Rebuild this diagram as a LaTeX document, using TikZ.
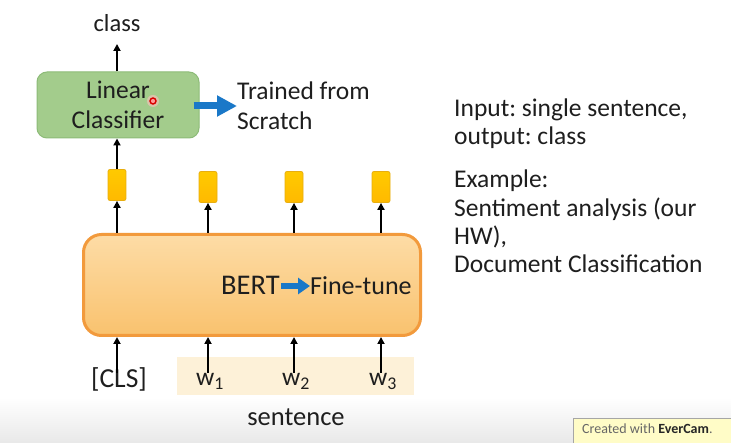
\documentclass[tikz,border=0pt]{standalone}
\usepackage{fontspec}
\setmainfont{Carlito}
\frenchspacing
\usetikzlibrary{arrows.meta}
\definecolor{clsgreen}{HTML}{A3CC8C}
\definecolor{clsgreenline}{HTML}{8DBB78}
\definecolor{bertlight}{HTML}{FDDCA6}
\definecolor{bertdark}{HTML}{F9C26E}
\definecolor{bertline}{HTML}{F29A3C}
\definecolor{vecfill}{HTML}{FFC000}
\definecolor{vecline}{HTML}{E8AE10}
\definecolor{bandfill}{HTML}{FDF1D8}
\definecolor{flowblue}{HTML}{1A78C8}
\definecolor{txt}{HTML}{1E1E1E}
\tikzset{
  lbl/.style={inner sep=0pt, text=txt, font=\fontsize{25.5}{28.5}\selectfont},
  line/.style={lbl, anchor=base west},
  arr/.style={-{Triangle[length=7pt,width=7pt]}, line width=1.8pt, black},
  bluearr/.style={-{Triangle[length=20pt,width=20pt]}, line width=7pt, flowblue},
  greenbox/.style={draw=clsgreenline, line width=1pt, fill=clsgreen, rounded corners=10pt,
    minimum width=162pt, minimum height=66pt, align=center, text=txt, inner sep=0pt,
    font=\fontsize{25.5}{30}\selectfont},
  bertbox/.style={draw=bertline, line width=3pt, top color=bertlight, bottom color=bertdark,
    rounded corners=18pt, minimum width=337pt, minimum height=101pt},
  vecbox/.style={draw=vecline, line width=0.8pt, top color=vecfill!85!yellow, bottom color=vecfill!90!orange,
    rounded corners=2pt, minimum width=18pt, minimum height=31pt, inner sep=0pt},
}
\begin{document}
\begin{tikzpicture}[x=1pt,y=-1pt]
  \useasboundingbox (0,0) rectangle (731,443);
  \fill[white] (0,0) rectangle (731,443);
  % grey strip along the lower edge
  \shade[top color=white, bottom color=black!9] (0,398) rectangle (731,443);

  % output side
  \node[lbl, anchor=base, font=\fontsize{24.5}{28}\selectfont] (class) at (117,32) {class};
  \node[greenbox] (lin) at (118,105) {Linear\\Classifier};
  \coordinate (classtip) at (117,44);
  \draw[arr] (lin.north -| classtip) -- (classtip);
  \fill[red!25, opacity=0.6] (153,101) circle (6pt);
  \draw[red!85!black, line width=1.4pt, fill=red!40] (153,101) circle (3pt);

  \node[line] (tr1) at (237,100) {Trained from};
  \node[line] (tr2) at (237,130) {Scratch};
  \draw[bluearr] (lin.east |- 0,106) ++(-6,0) coordinate (bs) -- (tr1.west |- bs);

  % contextual vectors
  \node[vecbox] (h0) at (117,185) {};
  \node[vecbox] (h1) at (208,187) {};
  \node[vecbox] (h2) at (294,187) {};
  \node[vecbox] (h3) at (381,187) {};
  \draw[arr] (h0.north) -- (lin.south -| h0);

  % encoder
  \node[bertbox] (bert) at (252,285) {};
  \foreach \h in {h0,h1,h2,h3}
    \draw[arr] (bert.north -| \h) -- (\h.south);
  \node[lbl, anchor=base west, font=\fontsize{28.5}{32}\selectfont] (bname) at (221,295) {BERT};
  \node[lbl, anchor=base west, font=\fontsize{26}{30}\selectfont] (ft) at (310,295) {Fine-tune};
  \draw[-{Triangle[length=12pt,width=16pt]}, line width=6pt, flowblue]
    (bname.east |- 0,286) ++(1,0) -- (ft.west |- 0,286);

  % inputs
  \fill[bandfill] (177,357) rectangle (414,395);
  \node[lbl, anchor=base, font=\fontsize{27.5}{30}\selectfont] (cls) at (119,388) {[CLS]};
  \node[lbl, anchor=base] (w1) at (210,386) {w\textsubscript{1}};
  \node[lbl, anchor=base] (w2) at (296,386) {w\textsubscript{2}};
  \node[lbl, anchor=base] (w3) at (383,386) {w\textsubscript{3}};
  \foreach \w/\x in {cls/117,w1/208,w2/294,w3/381}
    \draw[arr] (\x,373) -- (bert.south -| \x,0);
  \node[lbl, anchor=base, font=\fontsize{26.5}{30}\selectfont] (sent) at (296,425) {sentence};

  % task description
  \node[line] (io1) at (454,117) {Input: single sentence,};
  \node[line] (io2) at (454,145) {output: class};
  \node[line] (ex1) at (454,188) {Example:};
  \node[line] (ex2) at (454,217) {Sentiment analysis (our};
  \node[line] (ex3) at (454,245) {HW),};
  \node[line] (ex4) at (454,273) {Document Classification};

  % recorder stamp
  \node[draw=black!35, fill=yellow!22, anchor=north west, minimum width=170pt,
    minimum height=30pt, inner sep=0pt] (stamp) at (573,418) {};
  \node[anchor=base west, inner sep=0pt, text=black!60, font=\fontsize{14}{16}\selectfont]
    (stamptxt) at (582,434) {Created with \textbf{\textcolor{black!85}{EverCam}}.};
\end{tikzpicture}
\end{document}
